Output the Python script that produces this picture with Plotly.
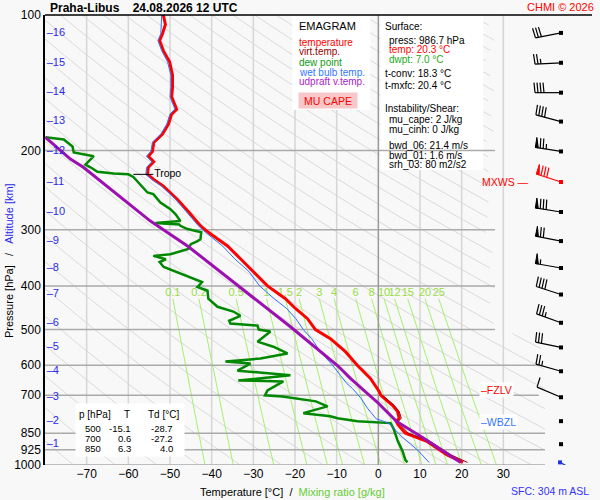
## Emagram Praha-Libus, 24.08.2026 12 UTC
import math
import numpy as np
import plotly.graph_objects as go

station = "Praha-Libus"
valid_time = "24.08.2026 12 UTC"

## temperature [°C] at pressure [hPa]
temp_p = [100, 105, 110, 114, 120, 127, 136, 145, 152, 162,
          166, 175, 184, 192, 201, 206, 212, 218, 226, 232,
          240, 257, 274, 294, 304, 326, 348, 372, 400, 427,
          449, 473, 500, 524, 560, 601, 642, 686, 700, 737,
          760, 787, 800, 816, 850, 885, 950, 987]
temp_c = [-51.6, -51.1, -51.8, -52.5, -51.6, -50.1, -49.4, -49.4, -49.6, -48.4,
          -49.6, -50.4, -51.8, -53.9, -54.2, -55.2, -53.9, -55.2, -55.4, -53.9,
          -51.6, -48.2, -45.5, -42.7, -40.8, -36.2, -33.1, -30.0, -26.6, -22.3,
          -19.9, -17.0, -15.1, -11.5, -7.9, -5.0, -1.9, 0.2, 0.6, 3.4,
          4.6, 5.0, 4.3, 4.8, 6.5, 11.5, 16.5, 20.3]

## virtual temperature (lower levels)
virt_p = [700, 737, 760, 787, 800, 816, 850, 885, 950, 987]
virt_c = [1.0, 3.8, 5.0, 5.5, 4.8, 5.4, 7.2, 12.3, 17.5, 21.4]

## dew point
dew_p = [187, 189, 196, 202, 206, 215, 218, 223, 225, 226,
         229, 238, 248, 250, 261, 270, 277, 287, 289, 290,
         292, 294, 299, 302, 304, 315, 318, 323, 331, 340,
         343, 349, 354, 363, 370, 380, 386, 392, 396, 402,
         410, 427, 445, 456, 466, 478, 485, 490, 500, 505,
         532, 546, 565, 580, 589, 595, 617, 632, 649, 652,
         683, 700, 704, 722, 741, 767, 779, 787, 799, 807,
         828, 850, 881, 931, 975, 987]
dew_c = [-79.9, -75.5, -73.4, -73.1, -68.3, -70.3, -69.1, -67.4, -63.5, -60.0,
         -58.8, -57.1, -55.4, -54.0, -52.3, -49.9, -48.7, -47.5, -50.6, -53.5,
         -47.8, -47.5, -45.8, -43.4, -42.5, -42.7, -43.4, -45.0, -45.6, -49.9,
         -54.0, -51.0, -52.5, -51.5, -49.2, -45.8, -44.0, -42.3, -42.7, -43.4,
         -41.0, -40.8, -38.6, -34.8, -33.1, -35.8, -35.5, -29.0, -28.7, -25.9,
         -29.0, -25.2, -21.8, -28.3, -36.7, -30.7, -33.8, -21.1, -33.6, -22.8,
         -26.6, -27.2, -23.0, -15.0, -12.2, -18.0, -11.5, -9.8, -5.0, 2.9,
         3.6, 4.0, 4.6, 5.8, 6.5, 7.0]

## wet bulb temperature
wet_p = [100, 110, 114, 120, 127, 136, 145, 152, 162, 166,
         175, 184, 192, 201, 206, 212, 218, 226, 232, 240,
         257, 274, 294, 304, 326, 348, 372, 400, 427, 449,
         473, 500, 524, 560, 600, 632, 660, 676, 710, 748,
         772, 790, 799, 812, 850, 871, 926, 975, 987]
wet_c = [-52.0, -52.2, -52.9, -52.0, -50.6, -49.8, -49.8, -50.0, -48.8, -50.0,
         -50.8, -52.2, -54.2, -54.6, -55.6, -54.3, -55.6, -55.8, -54.3, -52.0,
         -48.6, -46.0, -43.2, -41.5, -37.4, -34.5, -31.0, -28.5, -25.0, -22.0,
         -19.8, -18.0, -16.0, -13.9, -11.0, -9.1, -7.5, -6.2, -4.2, -2.6,
         -1.4, -0.5, 1.2, 2.9, 4.8, 6.0, 9.4, 11.8, 12.2]

## updraft virtual temperature (MU parcel)
parc_p = [187, 209, 218, 287, 326, 392, 493, 601, 642, 729, 748, 799, 871, 975, 987]
parc_c = [-79.9, -73.9, -70.8, -54.7, -45.8, -34.8, -21.1, -9.8, -6.7, 0.0, 1.2, 4.3, 10.8, 18.9, 19.8]

## altitude marks [km] and their pressure
alt_km = [16, 15, 14, 13, 12, 11, 10, 9, 8, 7, 6, 5, 4, 3, 2, 1]
alt_p = [109.6, 127.7, 148.8, 172.5, 201, 235, 274, 318, 365, 418, 483, 548, 619, 707, 799, 899]

## wind at the altitude marks: direction [deg], speed [kt]
wind_dir = [259, 267, 270, 285, 279, 288, 279, 281, 280, 288, 290, 282, 286, 293, 0, 0]
wind_kt = [30, 25, 40, 40, 75, 80, 80, 70, 55, 40, 35, 30, 25, 10, 0, 0]
mxws_km = 11

sfc_p = 986.7
sfc_dir = 118
sfc_kt = 3

## mixing ratio lines [g/kg]
mix_gkg = [0.1, 0.2, 0.5, 1, 1.5, 2, 3, 4, 6, 8, 10, 12, 15, 20, 25]

## levels
tropo_p = 226
fzlv_p = 683
wbzl_p = 804

## table
tab_p = [500, 700, 850]
tab_t = [-15.1, 0.6, 6.3]
tab_td = [-28.7, -27.2, 4.0]

info_lines = [
    ("Surface:", 383, 27, "black"),
    ("press: 986.7 hPa", 387, 40, "black"),
    ("temp: 20.3 °C", 387, 50, "#ff0000"),
    ("dwpt: 7.0 °C", 387, 60, "#22aa22"),
    ("t-conv: 18.3 °C", 383, 74, "black"),
    ("t-mxfc: 20.4 °C", 383, 85, "black"),
    ("Instability/Shear:", 383, 108, "black"),
    ("mu_cape: 2 J/kg", 387, 119, "black"),
    ("mu_cinh: 0 J/kg", 387, 129, "black"),
    ("bwd_06: 21.4 m/s", 387, 145, "black"),
    ("bwd_01: 1.6 m/s", 387, 155, "black"),
    ("srh_03: 80 m2/s2", 387, 164, "black"),
]
legend_lines = [
    ("temperature", 42, "#ff0000"),
    ("virt.temp.", 52, "#990000"),
    ("dew point", 62, "#119911"),
    ("wet bulb temp.", 72, "#3377ff"),
    ("udpraft v.temp.", 82, "#aa22cc"),
]

FONT = "Liberation Sans, Arial, sans-serif"
BG = "#f8f8f8"
NB = "\u00a0"


## pixel -> paper helpers (plot area 45..595 x 15..465)
def px(x):
    return (x - 45) / 550.0


def py(y):
    return (465 - y) / 450.0


def t_of_px(x):
    return (x - 378) / (500 / 120.0)


def td_from_w(w, p):
    e = w * p / (622.0 + w)
    a = math.log(e / 6.112)
    return 243.5 * a / (17.67 - a)


fig = go.Figure()


def add_line(x, y, color, width, xaxis="x", fill=None):
    fig.add_trace(go.Scatter(x=x, y=y, mode="lines", xaxis=xaxis, yaxis="y",
                             line=dict(color=color, width=width),
                             fill=fill, fillcolor=color if fill else None,
                             hoverinfo="skip", showlegend=False))


## isotherms
xs, ys = [], []
for t in range(-70, 40, 10):
    if t != 0:
        xs += [t, t, None]
        ys += [100, 1000, None]
add_line(xs, ys, "#d6d6d6", 1.5)

## dry adiabats
pp = np.geomspace(100, 1000, 90)
xs, ys = [], []
for th in range(190, 600, 10):
    for p in pp:
        t = th * (p / 1000.0) ** 0.2857 - 273.15
        lim = 28 if p < 510 else 40.5
        xs.append(t if t <= lim else None)
        ys.append(p)
    xs.append(None)
    ys.append(None)
add_line(xs, ys, "#dadada", 1)

## mixing ratio lines
pm = np.geomspace(427, 1000, 25)
xs, ys = [], []
for w in mix_gkg:
    for p in pm:
        xs.append(td_from_w(w, p))
        ys.append(p)
    xs.append(None)
    ys.append(None)
add_line(xs, ys, "#a6f070", 1)
fig.add_trace(go.Scatter(x=[td_from_w(w, 427) for w in mix_gkg], y=[416] * len(mix_gkg),
                         mode="text", text=[f"{w:g}" for w in mix_gkg],
                         textfont=dict(color="#99dd44", size=11, family=FONT),
                         hoverinfo="skip", showlegend=False))

## white boxes (legend + surface info)
add_line([t_of_px(292), t_of_px(370), t_of_px(370), t_of_px(292), t_of_px(292)],
         [100, 100, 162.7, 162.7, 100], "#ffffff", 0, fill="toself")
add_line([t_of_px(380), t_of_px(483), t_of_px(483), t_of_px(380), t_of_px(380)],
         [100, 100, 221, 221, 100], "#ffffff", 0, fill="toself")

## isobars
isobar_p = [200, 300, 400, 500, 600, 700, 850, 925, 1000]
isobar_end = [28, 28, 28, 28, 38.5, 38.5, 40, 40, 40]
xs, ys = [], []
for p, e in zip(isobar_p, isobar_end):
    xs += [-80, e, None]
    ys += [p, p, None]
add_line(xs, ys, "#aaaaaa", 1.5)
add_line([0, 0], [100, 1000], "#9a9a9a", 1.5)

## profiles
add_line(temp_c, temp_p, "#ff0000", 3)
add_line(virt_c, virt_p, "#a00000", 1)
add_line(dew_c, dew_p, "#008800", 2.5)
add_line(wet_c, wet_p, "#2f6fff", 1)
add_line(parc_c, parc_p, "#9c10b0", 3)

## tropopause mark
t_tropo = temp_c[temp_p.index(tropo_p)]
add_line([t_tropo - 3.4, t_tropo + 1.4], [tropo_p, tropo_p], "black", 1)
fig.add_trace(go.Scatter(x=[t_tropo + 1.6], y=[tropo_p], mode="text", text=["Tropo"],
                         textposition="middle right",
                         textfont=dict(color="black", size=10.5, family=FONT),
                         hoverinfo="skip", showlegend=False))

## altitude marks
fig.add_trace(go.Scatter(x=[-79.6] * len(alt_km), y=alt_p, mode="text",
                         text=["–" + str(k) for k in alt_km], textposition="middle right",
                         textfont=dict(color="#2a2aee", size=11, family=FONT),
                         hoverinfo="skip", showlegend=False))


## wind barbs (drawn in a pixel-x axis, pressure-y axis)
def barb(p0, wdir, spd, length, color, xdot=561.0):
    th = math.radians(wdir)
    dx, dy = math.sin(th), -math.cos(th)
    nx, ny = -dy, dx

    def P(s, h):
        x = xdot + s * dx + h * nx
        yy = s * dy + h * ny
        return x, p0 * 10 ** (yy / 450.0)

    lx, ly = [], []

    def seg(a, b):
        lx.extend([a[0], b[0], None])
        ly.extend([a[1], b[1], None])

    if spd > 0:
        seg(P(0, 0), P(length, 0))
    n50, rest = divmod(int(spd), 50)
    n10, rest = divmod(rest, 10)
    s = length
    for _ in range(n50):
        tri = [P(s, 0), P(s, 10), P(s - 3, 0), P(s, 0)]
        add_line([q[0] for q in tri], [q[1] for q in tri], color, 1, xaxis="x2", fill="toself")
        s -= 5
    for _ in range(n10):
        seg(P(s, 0), P(s + 1, 10))
        s -= 3
    if rest >= 5:
        seg(P(s, 0), P(s + 0.5, 5))
    if lx:
        add_line(lx, ly, color, 1.2, xaxis="x2")


for km, p, d, v in zip(alt_km, alt_p, wind_dir, wind_kt):
    barb(p, d, v, 26, "#ff0000" if km == mxws_km else "black")
barb(sfc_p, sfc_dir, sfc_kt, 18, "#2233dd", xdot=560)
fig.add_trace(go.Scatter(x=[561] * len(alt_p), y=alt_p, mode="markers", xaxis="x2",
                         marker=dict(symbol="square", size=4,
                                     color=["#ff0000" if k == mxws_km else "black" for k in alt_km]),
                         hoverinfo="skip", showlegend=False))
fig.add_trace(go.Scatter(x=[560], y=[sfc_p], mode="markers", xaxis="x2",
                         marker=dict(symbol="square", size=4, color="#2233dd"),
                         hoverinfo="skip", showlegend=False))

## texts
ann = []


def text(t, x, y, color="black", size=10, anchor="left", **kw):
    ann.append(dict(text=t, x=px(x), y=py(y), xref="paper", yref="paper", showarrow=False,
                    xanchor=anchor, yanchor="middle",
                    font=dict(color=color, size=size, family=FONT), **kw))


text("CHMI © 2026", 596, 7, color="#ff0000", size=11, anchor="right")
text("EMAGRAM", 297, 26, size=11)
for t, y, c in legend_lines:
    text(t, 297, y, color=c, size=10)
text("MU CAPE", 298, 100, color="#ff0000", size=10.5, bgcolor="#f8c8c8", width=56, height=13)
for t, x, y, c in info_lines:
    text(t, x, y, color=c, size=10)

## table box and rows
text("", 75, 430, bgcolor="#ffffff", width=106, height=50)
text("p [hPa]", 77, 414, size=10)
text("T", 127, 414, size=10, anchor="center")
text("Td [°C]", 146, 414, size=10)
for i, (p, t, td) in enumerate(zip(tab_p, tab_t, tab_td)):
    yy = 428 + 10.3 * i
    text(str(p), 103, yy, size=9.5, anchor="right")
    text(f"{t:.1f}", 133, yy, size=9.5, anchor="right")
    text(f"{td:.1f}", 175, yy, size=9.5, anchor="right")

## level labels at the right
lev = [("MXWS —", 531, alt_p[alt_km.index(mxws_km)], "#ff0000", "right", None),
       ("–FZLV", 479, fzlv_p, "#ff0000", "left", "#ffffff"),
       ("–WBZL", 479, wbzl_p, "#3377ff", "left", "#ffffff")]
for t, x, p, c, a, bg in lev:
    ann.append(dict(text=t, x=px(x), y=math.log10(p), xref="paper", yref="y", showarrow=False,
                    xanchor=a, yanchor="middle", bgcolor=bg,
                    font=dict(color=c, size=10.5, family=FONT)))

text("SFC: 304 m ASL", 591, 491, color="#3333ff", size=10.5, anchor="right")
text("Temperature [°C]" + NB * 2 + "/" + NB * 2 + "<span style='color:#66cc33'>Mixing ratio [g/kg]</span>",
     292, 492, size=11, anchor="center")
ann.append(dict(text="Pressure [hPa]" + NB * 3 + "/" + NB * 3 + "<span style='color:#2a2aee'>Altitude [km]</span>",
                x=px(9), y=py(261), xref="paper", yref="paper", showarrow=False,
                textangle=-90, xanchor="center", yanchor="middle",
                font=dict(color="black", size=11, family=FONT)))

fig.update_layout(
    width=600, height=500,
    margin=dict(l=45, r=5, t=15, b=35),
    paper_bgcolor=BG, plot_bgcolor="rgba(0,0,0,0)",
    showlegend=False, hovermode=False,
    title=dict(text="<b>" + station + NB * 4 + valid_time + "</b>",
               x=50 / 600.0, xref="container", xanchor="left",
               y=1 - 8 / 500.0, yref="container", yanchor="middle",
               font=dict(size=12, family=FONT, color="black")),
    annotations=ann,
    shapes=[dict(type="line", xref="paper", yref="paper", x0=0, x1=px(592), y0=1, y1=1,
                 line=dict(color="black", width=1.5))],
    font=dict(family=FONT, color="black"),
    xaxis=dict(domain=[0, 500 / 550.0], range=[-80, 40], showgrid=False, zeroline=False,
               tickvals=list(range(-70, 40, 10)), ticks="", tickfont=dict(size=12),
               showline=False),
    xaxis2=dict(domain=[0, 1], range=[45, 595], anchor="y", visible=False),
    yaxis=dict(type="log", range=[3, 2], showgrid=False, zeroline=False,
               tickvals=[100, 200, 300, 400, 500, 600, 700, 850, 925, 1000],
               ticktext=["100", "200", "300", "400", "500", "600", "700", "850", "925", "1000"],
               ticks="", tickfont=dict(size=12), showline=True, linecolor="black", linewidth=1.5),
)

## page without body margin so the 600x500 figure fills the window
fig.write_html("out.html", config={"displayModeBar": False},
               post_script="document.body.style.margin='0';")
